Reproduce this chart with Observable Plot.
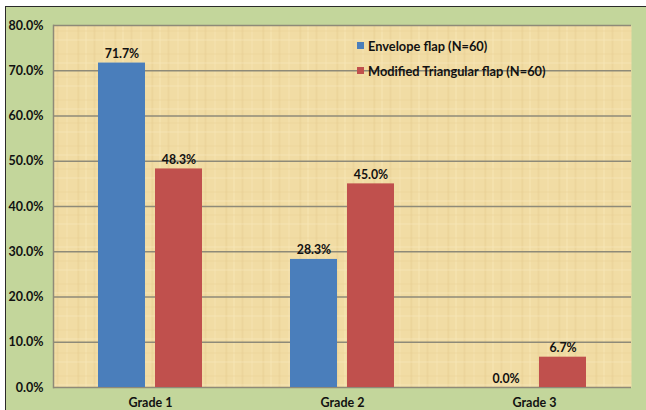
<!DOCTYPE html>
<html><head><meta charset="utf-8">
<script src="https://cdn.jsdelivr.net/npm/d3@7"></script>
<script src="https://cdn.jsdelivr.net/npm/@observablehq/plot@0.6"></script>
<style>
html,body{margin:0;padding:0}
body{background:#fff;width:646px;height:410px;overflow:hidden;position:relative;font-family:Lato,sans-serif}
#bg{position:absolute;left:5px;top:6px;width:641px;height:404px;background:#C3D69B;border-top:1.5px solid #2a2a2a;border-left:1.5px solid #2a2a2a;box-sizing:border-box}
#chart{position:absolute;left:0;top:0}
#legend{position:absolute;left:357px;top:33px;font:bold 12.8px Lato,sans-serif;color:#111}
#legend div{display:flex;align-items:center;height:25px}
#legend span.sw{display:inline-block;width:7px;height:7px;margin-right:4px}
</style></head>
<body>
<div id="bg"></div>
<div id="chart"></div>
<div id="legend"></div>
<script>
const grades = ["Grade 1", "Grade 2", "Grade 3"];
const envelope = [71.7, 28.3, 0.0];
const triangular = [48.3, 45.0, 6.7];
const seriesNames = ["Envelope flap (N=60)", "Modified Triangular flap (N=60)"];
const seriesColors = ["#4A7EBB", "#C0504D"];
const yTicks = [0, 10, 20, 30, 40, 50, 60, 70, 80];

const rows = grades.map((g, i) => ({grade: g, env: envelope[i], tri: triangular[i]}));
const fmt = v => v.toFixed(1) + "%";
const gridColor = "#8E8A78";

const plot = Plot.plot({
  width: 646, height: 410,
  marginLeft: 53, marginRight: 15, marginTop: 25, marginBottom: 23,
  style: {background: "transparent", fontFamily: "Lato, sans-serif"},
  x: {domain: grades, padding: 0, label: null},
  y: {domain: [0, 80], label: null},
  marks: [
    Plot.frame({fill: "url(#papyrus)", stroke: null}),
    Plot.ruleY(yTicks, {stroke: gridColor, strokeWidth: 1.5}),
    Plot.frame({anchor: "left", stroke: gridColor, strokeWidth: 1.5}),
    Plot.barY(rows, {x: "grade", y: "env", fill: seriesColors[0], insetLeft: 44, insetRight: 101}),
    Plot.barY(rows, {x: "grade", y: "tri", fill: seriesColors[1], insetLeft: 101, insetRight: 44}),
    Plot.text(rows, {x: "grade", y: "env", text: d => fmt(d.env), dx: -28.5, dy: -5, lineAnchor: "bottom", fontWeight: "bold", fontSize: 12.3, fill: "#111"}),
    Plot.text(rows, {x: "grade", y: "tri", text: d => fmt(d.tri), dx: 28.5, dy: -5, lineAnchor: "bottom", fontWeight: "bold", fontSize: 12.3, fill: "#111"}),
    Plot.axisY({ticks: yTicks, tickFormat: fmt, tickSize: 0, tickPadding: 10, fontWeight: "bold", fontSize: 12.5, fill: "#111", label: null}),
    Plot.axisX({tickSize: 0, tickPadding: 11, fontWeight: "bold", fontSize: 12.5, fill: "#111", label: null})
  ]
});

// papyrus-like texture pattern (styling only)
const ns = "http://www.w3.org/2000/svg";
const defs = document.createElementNS(ns, "defs");
defs.innerHTML = `
<pattern id="papyrus" patternUnits="userSpaceOnUse" width="37" height="23">
  <rect width="37" height="23" fill="#F1DCA4"/>
  <rect x="3" width="1.5" height="23" fill="#E8CF93" opacity="0.7"/>
  <rect x="11" width="1" height="23" fill="#F7E7B8" opacity="0.8"/>
  <rect x="19" width="2" height="23" fill="#E9D196" opacity="0.6"/>
  <rect x="29" width="1" height="23" fill="#F6E4B2" opacity="0.8"/>
  <rect y="7" width="37" height="1" fill="#E7CE92" opacity="0.5"/>
  <rect y="16" width="37" height="1" fill="#F8E8BC" opacity="0.6"/>
</pattern>`;
plot.insertBefore(defs, plot.firstChild);
document.getElementById("chart").appendChild(plot);

const legend = document.getElementById("legend");
seriesNames.forEach((n, i) => {
  const row = document.createElement("div");
  row.innerHTML = `<span class="sw" style="background:${seriesColors[i]}"></span>${n}`;
  legend.appendChild(row);
});
</script>
</body></html>
